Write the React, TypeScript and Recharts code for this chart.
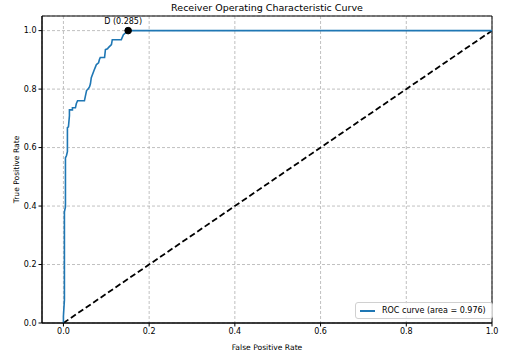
import {
    ComposedChart, Line, XAxis, YAxis, CartesianGrid, ReferenceArea,
    ReferenceDot,
} from 'recharts';

// ROC curve points (false positive rate, true positive rate)
const fprValues = [
    0, 0, 0.0023, 0.0023, 0.0047, 0.0047, 0.007, 0.0093, 0.0093, 0.0117,
    0.014, 0.014, 0.021, 0.021, 0.028, 0.03, 0.033, 0.049, 0.051, 0.054,
    0.058, 0.061, 0.063, 0.065, 0.072, 0.075, 0.077, 0.082, 0.084, 0.086,
    0.096, 0.098, 0.103, 0.105, 0.112, 0.114, 0.135, 0.14, 0.151, 1.0,
];
const tprValues = [
    0, 0.024, 0.079, 0.38, 0.397, 0.565, 0.572, 0.586, 0.668, 0.671,
    0.709, 0.729, 0.729, 0.736, 0.736, 0.75, 0.76, 0.76, 0.774, 0.795,
    0.801, 0.808, 0.818, 0.839, 0.866, 0.877, 0.884, 0.89, 0.901, 0.908,
    0.908, 0.935, 0.938, 0.942, 0.952, 0.969, 0.969, 0.986, 1.0, 1.0,
];
const chanceFpr = [0, 1];
const chanceTpr = [0, 1];
const axisTicks = [0, 0.2, 0.4, 0.6, 0.8, 1.0];

const pointD = { fpr: 0.151, tpr: 1.0, label: 'D (0.285)' };
const areaLabel = 'ROC curve (area = 0.976)';

const rocData = fprValues.map((f, i) => ({ fpr: f, tpr: tprValues[i] }));
const chanceData = chanceFpr.map((f, i) => ({ fpr: f, tpr: chanceTpr[i] }));

const FONT = '"DejaVu Sans", sans-serif';

function PointLabel(props: any) {
    const vb = props.viewBox || {};
    const cx = vb.x + vb.width / 2;
    const cy = vb.y + vb.height / 2;
    return (
        <text x={cx - 5} y={cy - 7} textAnchor="middle" fontSize={8} fontFamily={FONT} fill="#000">
            {pointD.label}
        </text>
    );
}

export default function App() {
    return (
        <div style={{ position: 'absolute', left: 0, top: 0, width: 505, height: 353, background: '#fff' }}>
            <div style={{
                position: 'absolute', left: 0, width: 534, top: 2, textAlign: 'center',
                fontFamily: FONT, fontSize: 9.5, color: '#000',
            }}>
                Receiver Operating Characteristic Curve
            </div>
            <ComposedChart
                width={505}
                height={353}
                margin={{ top: 16, right: 13, left: 0, bottom: 0 }}
            >
                <CartesianGrid stroke="#b0b0b0" strokeDasharray="3 2" strokeWidth={0.8} />
                <XAxis
                    type="number"
                    dataKey="fpr"
                    domain={[-0.05, 1.0]}
                    ticks={axisTicks}
                    allowDataOverflow
                    tickFormatter={(v) => Number(v).toFixed(1)}
                    tick={{ fontSize: 8, fill: '#000', fontFamily: FONT }}
                    tickSize={3.5}
                    tickLine={{ stroke: '#000' }}
                    axisLine={{ stroke: '#000' }}
                    height={30}
                    label={{ value: 'False Positive Rate', position: 'insideBottom', offset: 3, fontSize: 7.6, fill: '#000', fontFamily: FONT }}
                />
                <YAxis
                    type="number"
                    dataKey="tpr"
                    domain={[0, 1.05]}
                    ticks={axisTicks}
                    allowDataOverflow
                    tickFormatter={(v) => Number(v).toFixed(1)}
                    tick={{ fontSize: 8, fill: '#000', fontFamily: FONT }}
                    tickSize={3.5}
                    tickLine={{ stroke: '#000' }}
                    axisLine={{ stroke: '#000' }}
                    width={42}
                    label={{ value: 'True Positive Rate', angle: -90, position: 'insideLeft', offset: 16, fontSize: 7.6, fill: '#000', fontFamily: FONT, style: { textAnchor: 'middle', fill: '#000' } }}
                />
                <ReferenceArea x1={-0.05} x2={1.0} y1={0} y2={1.05} stroke="#000" strokeWidth={1} fill="none" ifOverflow="visible" />
                <Line
                    data={chanceData}
                    dataKey="tpr"
                    type="linear"
                    stroke="#000"
                    strokeWidth={1.8}
                    strokeDasharray="6 3"
                    dot={false}
                    activeDot={false}
                    isAnimationActive={false}
                    legendType="none"
                />
                <Line
                    data={rocData}
                    dataKey="tpr"
                    type="linear"
                    stroke="#1f77b4"
                    strokeWidth={1.6}
                    dot={false}
                    activeDot={false}
                    isAnimationActive={false}
                />
                <ReferenceDot x={pointD.fpr} y={pointD.tpr} r={3.3} fill="#000" stroke="#000" ifOverflow="visible" label={<PointLabel />} />
            </ComposedChart>
            <div style={{
                position: 'absolute', left: 355, top: 302, height: 13,
                display: 'flex', alignItems: 'center', gap: 7,
                border: '1px solid #d0d0d0', borderRadius: 3, background: 'rgba(255,255,255,0.8)',
                padding: '1px 6px 1px 4px', fontFamily: FONT, fontSize: 8, color: '#000',
                whiteSpace: 'nowrap',
            }}>
                <span style={{ display: 'inline-block', width: 15, height: 2, background: '#1f77b4' }} />
                <span>{areaLabel}</span>
            </div>
        </div>
    );
}
